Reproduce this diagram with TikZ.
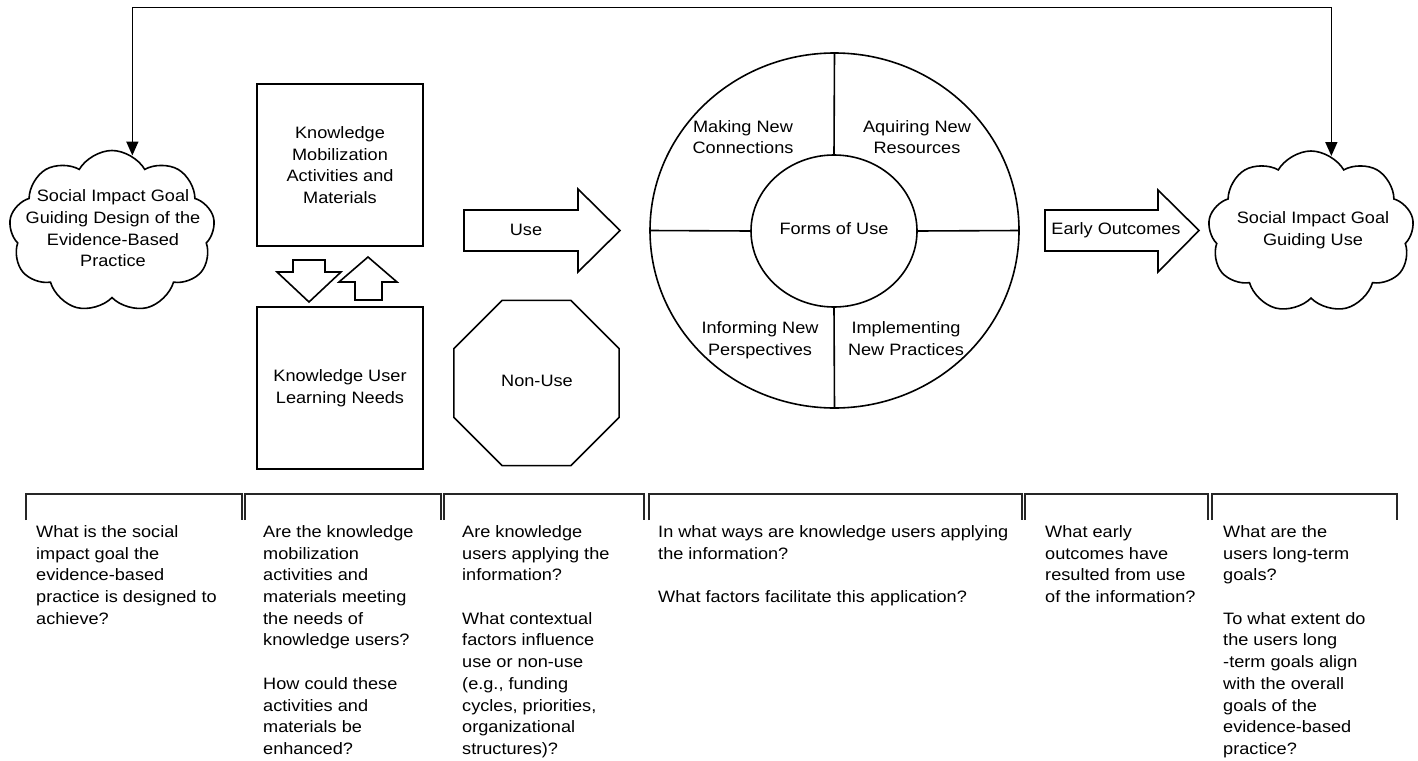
\documentclass[tikz,border=0pt]{standalone}
\usepackage{fontspec}
\setmainfont[FakeStretch=1.1]{Liberation Sans}
\usetikzlibrary{shapes.geometric,shapes.symbols,arrows.meta}
\tikzset{
  shp/.style={draw=black, line width=1.6pt, fill=white},
  txt/.style={font=\fontsize{16.5}{21.7}\selectfont, align=center, inner sep=0pt},
  qtext/.style={font=\fontsize{16.5}{21.7}\selectfont, align=left, inner sep=0pt, anchor=north west},
  conn/.style={draw=black, line width=1.6pt, {Triangle[length=14pt,width=12pt]}-{Triangle[length=14pt,width=12pt]}},
  brk/.style={draw=black!85, line width=1.6pt},
  cloudbox/.style={shp, cloud, cloud puffs=9, cloud puff arc=120, cloud ignores aspect, minimum width=206pt, minimum height=162pt, inner sep=0pt},
  boxnode/.style={shp, rectangle, minimum width=166pt, minimum height=162pt, inner sep=0pt, font=\fontsize{16.5}{21.7}\selectfont, align=center}
}
\begin{document}
\begin{tikzpicture}[x=1pt,y=-1pt]
\useasboundingbox (0,0) rectangle (1418,760);

% clouds
\node[cloudbox] (cloudL) at (112,231.5) {};
\node[txt] (cloudLtxt) at (113,228.5) {Social Impact Goal\\Guiding Design of the\\Evidence-Based\\Practice};
\node[cloudbox] (cloudR) at (1311,232) {};
\node[txt] (cloudRtxt) at (1313,230.3) {Social Impact Goal\\Guiding Use};

% top feedback connector
\coordinate (topbar) at (733,7.5);
\draw[conn] (cloudL.75) |- (topbar) -| (cloudR.75);

% boxes
\node[boxnode] (kma) at (340,165) {Knowledge\\Mobilization\\Activities and\\Materials};
\node[boxnode] (kul) at (340,388) {Knowledge User\\Learning Needs};

% small block arrows between boxes
\draw[shp, line join=miter] (293,260) -- (325,260) -- (325,272) -- (341,272) -- (309,302) -- (277,272) -- (293,272) -- cycle;
\draw[shp, line join=miter] (355,300) -- (382,300) -- (382,282) -- (397,282) -- (368,257) -- (339,282) -- (355,282) -- cycle;

% Use arrow
\draw[shp, line join=miter] (464,210) -- (578,210) -- (578,189) -- (620,230.5) -- (578,272) -- (578,251) -- (464,251) -- cycle;
\node[txt] (use) at (526,229.5) {Use};

% Non-use octagon
\node[shp, regular polygon, regular polygon sides=8, minimum size=179pt, inner sep=0pt] (nonuse) at (536.5,383) {};
\node[txt] (nonuselbl) at (537,380.5) {Non-Use};

% Forms of use circle
\node[shp, ellipse, minimum width=369pt, minimum height=355pt, inner sep=0pt] (outer) at (834.5,230.5) {};
\node[shp, ellipse, minimum width=166pt, minimum height=152pt, inner sep=0pt] (inner) at (834,231) {};
\draw[line width=1.6pt] (outer.west) -- (inner.west);
\draw[line width=1.6pt] (inner.east) -- (outer.east);
\draw[line width=1.6pt] (outer.north) -- (inner.north);
\draw[line width=1.6pt] (inner.south) -- (outer.south);
\node[txt] (forms) at (834,228.5) {Forms of Use};
\node[txt] (mnc) at (743,137) {Making New\\Connections};
\node[txt] (anr) at (917,137) {Aquiring New\\Resources};
\node[txt] (inp) at (760,340.4) {Informing New\\Perspectives};
\node[txt] (imp) at (906,338.7) {Implementing\\New Practices};

% Early outcomes arrow
\draw[shp, line join=miter] (1045,210) -- (1158,210) -- (1158,190) -- (1199,230.5) -- (1158,272) -- (1158,251) -- (1045,251) -- cycle;
\node[txt] (early) at (1116,230.2) {Early Outcomes};

% brackets
\draw[brk] (26,520) -- (26,494) -- (242,494) -- (242,520);
\draw[brk] (245,520) -- (245,494) -- (441,494) -- (441,520);
\draw[brk] (444,520) -- (444,494) -- (644,494) -- (644,520);
\draw[brk] (649,520) -- (649,494) -- (1022,494) -- (1022,520);
\draw[brk] (1025,520) -- (1025,494) -- (1208,494) -- (1208,520);
\draw[brk] (1212,520) -- (1212,494) -- (1397,494) -- (1397,520);

% questions
\node[qtext] (q1) at (36,525.3) {What is the social\\impact goal the\\evidence-based\\practice is designed to\\achieve?};
\node[qtext] (q2) at (263,525.3) {Are the knowledge\\mobilization\\activities and\\materials meeting\\the needs of\\knowledge users?\\[21.7pt]How could these\\activities and\\materials be\\enhanced?};
\node[qtext] (q3) at (462,525.3) {Are knowledge\\users applying the\\information?\\[21.7pt]What contextual\\factors influence\\use or non-use\\(e.g., funding\\cycles, priorities,\\organizational\\structures)?};
\node[qtext] (q4) at (658,525.3) {In what ways are knowledge users applying\\the information?\\[21.7pt]What factors facilitate this application?};
\node[qtext] (q5) at (1045,525.3) {What early\\outcomes have\\resulted from use\\of the information?};
\node[qtext] (q6) at (1223,525.3) {What are the\\users long-term\\goals?\\[21.7pt]To what extent do\\the users long\\-term goals align\\with the overall\\goals of the\\evidence-based\\practice?};
\end{tikzpicture}
\end{document}
